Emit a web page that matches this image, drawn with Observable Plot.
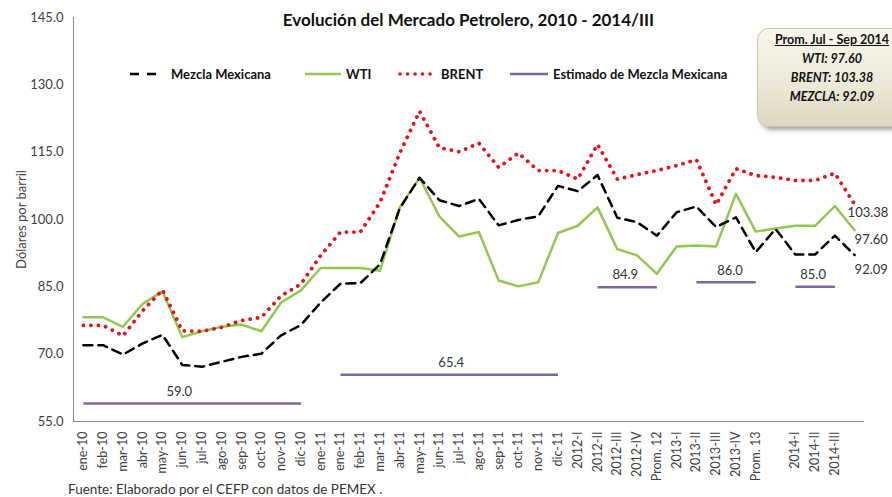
<!DOCTYPE html>
<html>
<head>
<meta charset="utf-8">
<script src="https://cdn.jsdelivr.net/npm/d3@7"></script>
<script src="https://cdn.jsdelivr.net/npm/@observablehq/plot@0.6"></script>
<style>
  html, body { margin: 0; padding: 0; background: #fff; }
  body { width: 892px; height: 497px; overflow: hidden; font-family: Lato, "Open Sans", sans-serif; }
  #wrap { position: relative; width: 892px; height: 497px; overflow: hidden; }
  #chart { position: absolute; left: 0; top: 0; }
  .title { position: absolute; left: 0; width: 937px; top: 9px; text-align: center; font-weight: bold; font-size: 17px; color: #111; }
  .leg { position: absolute; top: 66px; display: flex; align-items: center; font-weight: bold; font-size: 13px; color: #111; white-space: nowrap; }
  .leg svg { margin-right: 5px; }
  .box { position: absolute; left: 757px; top: 28px; width: 150px; height: 99px; border-radius: 12px;
         background: linear-gradient(180deg, #f8f6ec 0%, #ebe8d6 60%, #dcd8c0 100%);
         border: 1px solid #c9c5aa; box-shadow: 3px 3px 4px rgba(0,0,0,0.35);
         box-sizing: border-box; text-align: center; font-weight: bold; font-size: 12.5px; line-height: 19px; padding-top: 1px; color: #111; }
  .box .h { text-decoration: underline; font-style: normal; }
  .box .i { font-style: italic; }
  .foot { position: absolute; left: 68px; top: 481px; font-size: 13.5px; color: #333; }
</style>
</head>
<body>
<div id="wrap">
  <div id="chart"></div>
  <div class="title">Evolución del Mercado Petrolero, 2010 - 2014/III</div>
  <div class="leg" style="left:128px"><svg width="38" height="6"><line x1="2" y1="3" x2="36" y2="3" stroke="#000" stroke-width="2.5" stroke-dasharray="9,8"/></svg>Mezcla Mexicana</div>
  <div class="leg" style="left:305px"><svg width="36" height="6"><line x1="0" y1="3" x2="36" y2="3" stroke="#92c850" stroke-width="2.5"/></svg>WTI</div>
  <div class="leg" style="left:398px"><svg width="38" height="6"><line x1="2" y1="3" x2="38" y2="3" stroke="#e3141c" stroke-width="3.5" stroke-linecap="round" stroke-dasharray="0.1,7.4"/></svg>BRENT</div>
  <div class="leg" style="left:510px"><svg width="38" height="6"><line x1="0" y1="3" x2="38" y2="3" stroke="#8064a2" stroke-width="2.5"/></svg>Estimado de Mezcla Mexicana</div>
  <div class="box">
    <div class="h">Prom. Jul - Sep 2014</div>
    <div class="i">WTI: 97.60</div>
    <div class="i">BRENT: 103.38</div>
    <div class="i">MEZCLA: 92.09</div>
  </div>
  <div class="foot">Fuente: Elaborado por el CEFP con datos de PEMEX .</div>
</div>
<script>
// Category labels (40 positions; two unlabeled)
const labels = ["ene-10","feb-10","mar-10","abr-10","may-10","jun-10","jul-10","ago-10","sep-10","oct-10","nov-10","dic-10",
  "ene-11","ene-11","feb-11","mar-11","abr-11","may-11","jun-11","jul-11","ago-11","sep-11","oct-11","nov-11","dic-11",
  "2012-I","2012-II","2012-III","2012-IV","Prom. 12","2013-I","2013-II","2013-III","2013-IV","Prom. 13","",
  "2014-I","2014-II","2014-III",""];

// Series values (US$ per barrel)
const mezcla = [72.0,72.0,69.9,72.4,74.3,67.6,67.2,68.3,69.4,70.1,74.2,76.5,
  81.5,85.7,85.8,90.0,102.5,109.3,104.3,103.0,104.6,98.7,99.9,100.7,107.5,
  106.3,109.9,100.4,99.4,96.4,101.6,102.9,98.3,100.5,92.7,97.9,92.2,92.2,96.4,92.09];
const wti = [78.2,78.2,76.1,81.2,84.0,73.8,75.1,76.1,76.6,75.1,81.5,84.2,
  89.2,89.2,89.2,88.6,102.7,109.3,100.7,96.2,97.2,86.4,85.1,86.0,97.0,
  98.6,102.7,93.4,92.0,87.9,94.0,94.2,94.0,105.7,97.3,98.0,98.6,98.6,103.0,97.60];
const brent = [76.4,76.4,74.1,79.7,84.3,75.2,75.1,76.0,77.5,78.2,83.0,85.6,
  92.0,97.2,97.2,103.8,114.8,124.1,116.0,115.1,117.0,111.6,114.8,110.9,110.9,
  109.0,116.7,109.0,110.0,110.9,112.0,113.3,103.3,111.3,109.8,109.4,108.7,108.7,110.3,103.38];

// Estimated Mexican mix price (budget), by period
const estStart = [0, 13, 26, 31, 36];
const estEnd = [11, 24, 29, 34, 38];
const estValue = [59.0, 65.4, 84.9, 86.0, 85.0];
const estLabelAt = [4.85, 18.6, 27.4, 32.7, 36.9];

const yTicks = [55, 70, 85, 100, 115, 130, 145];

const rows = (arr) => arr.map((v, i) => ({i, v}));
const est = estValue.map((v, k) => ({x1: estStart[k], x2: estEnd[k], v, at: estLabelAt[k]}));
const n = labels.length;

const chart = Plot.plot({
  width: 892,
  height: 497,
  marginTop: 17,
  marginBottom: 76,
  marginLeft: 73,
  marginRight: 28,
  style: {fontFamily: "Lato, 'Open Sans', sans-serif", fontSize: "12px", color: "#404040", background: "transparent"},
  x: {domain: [-0.5, n - 0.5]},
  y: {domain: [55, 145]},
  marks: [
    Plot.axisY({ticks: yTicks, tickFormat: d => d.toFixed(1), tickSize: 0, tickPadding: 10, fontSize: 13,
      label: "Dólares por barril", labelAnchor: "center", labelArrow: "none", labelOffset: 57}),
    Plot.axisX({ticks: d3.range(n), tickFormat: i => labels[i], tickSize: 0, tickPadding: 10, tickRotate: -90, label: null, fontSize: 12.5}),
    Plot.ruleY([55], {stroke: "#8c8c8c", strokeWidth: 1}),
    Plot.frame({anchor: "left", stroke: "#8c8c8c"}),
    Plot.link(est, {x1: "x1", x2: "x2", y1: "v", y2: "v", stroke: "#8064a2", strokeWidth: 2.5}),
    Plot.text(est, {x: "at", y: "v", text: d => d.v.toFixed(1), dy: -12, fontSize: 13, fill: "#333"}),
    Plot.line(rows(wti), {x: "i", y: "v", stroke: "#92c850", strokeWidth: 2.5}),
    Plot.line(rows(mezcla), {x: "i", y: "v", stroke: "#000", strokeWidth: 2.5, strokeDasharray: "9,6"}),
    Plot.line(rows(brent), {x: "i", y: "v", stroke: "#e3141c", strokeWidth: 3.8, strokeLinecap: "round", strokeDasharray: "0.1,7.4"}),
    Plot.text([brent[n - 1]], {x: n - 1, y: d => d, text: d => d.toFixed(2), textAnchor: "start", dx: -7, dy: 9, fontSize: 13, fill: "#333"}),
    Plot.text([wti[n - 1]], {x: n - 1, y: d => d, text: d => d.toFixed(2), textAnchor: "start", dx: 0, dy: 10, fontSize: 13, fill: "#333"}),
    Plot.text([mezcla[n - 1]], {x: n - 1, y: d => d, text: d => d.toFixed(2), textAnchor: "start", dx: 0, dy: 15, fontSize: 13, fill: "#333"})
  ]
});
document.getElementById("chart").appendChild(chart);
</script>
</body>
</html>
